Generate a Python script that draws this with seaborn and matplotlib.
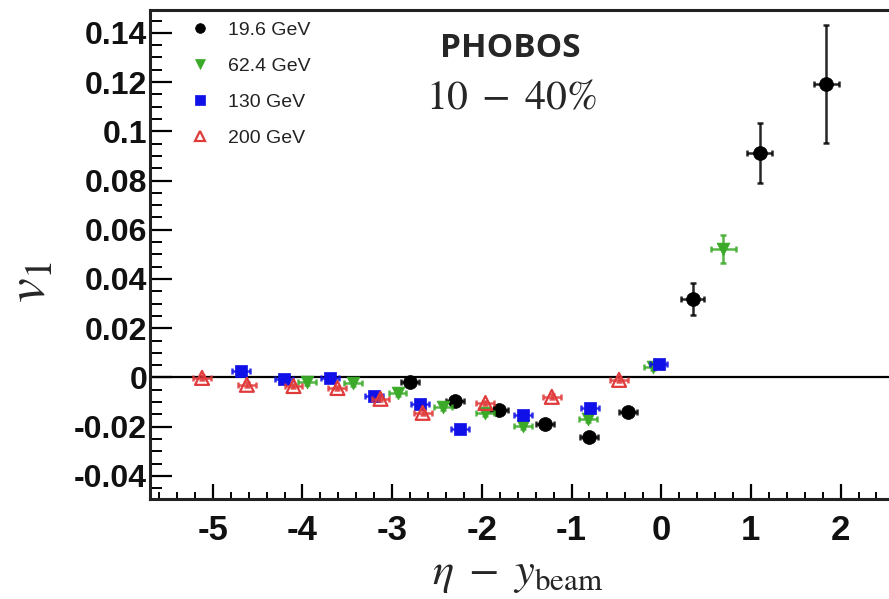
import numpy as np
import pandas as pd
import matplotlib
matplotlib.use("Agg")
import matplotlib.pyplot as plt
import seaborn as sns
from matplotlib.lines import Line2D
from matplotlib.ticker import MultipleLocator, FuncFormatter

# ---- data ----
x_196 = [-2.80, -2.30, -1.81, -1.30, -0.81, -0.37, 0.35, 1.10, 1.84]
y_196 = [-0.0018, -0.0095, -0.0132, -0.0189, -0.0242, -0.0140, 0.0319, 0.0912, 0.1192]
ye_196 = [0.0015, 0.0015, 0.0015, 0.0015, 0.0015, 0.0015, 0.0066, 0.0120, 0.0240]
xe_196 = [0.10, 0.10, 0.10, 0.10, 0.10, 0.10, 0.13, 0.14, 0.14]

x_624 = [-3.95, -3.44, -2.94, -2.43, -1.96, -1.54, -0.82, -0.09, 0.69]
y_624 = [-0.0018, -0.0022, -0.0063, -0.0120, -0.0144, -0.0197, -0.0169, 0.0043, 0.0522]
ye_624 = [0.0012, 0.0012, 0.0012, 0.0012, 0.0012, 0.0012, 0.0012, 0.0012, 0.0058]
xe_624 = [0.10, 0.10, 0.10, 0.10, 0.10, 0.10, 0.10, 0.10, 0.14]

x_130 = [-4.69, -4.21, -3.69, -3.20, -2.69, -2.24, -1.54, -0.79, -0.03]
y_130 = [0.0026, -0.0006, -0.0002, -0.0075, -0.0108, -0.0209, -0.0152, -0.0124, 0.0055]
ye_130 = [0.0012] * 9
xe_130 = [0.10] * 9

x_200 = [-5.12, -4.62, -4.10, -3.61, -3.13, -2.66, -1.96, -1.22, -0.47]
y_200 = [-0.0002, -0.0030, -0.0035, -0.0043, -0.0087, -0.0144, -0.0104, -0.0079, -0.0010]
ye_200 = [0.0010] * 9
xe_200 = [0.10] * 9

labels = ["19.6 GeV", "62.4 GeV", "130 GeV", "200 GeV"]
y_ticks = [-0.04, -0.02, 0, 0.02, 0.04, 0.06, 0.08, 0.1, 0.12, 0.14]
x_ticks = [-5, -4, -3, -2, -1, 0, 1, 2]

# ---- style ----
sns.set_theme(style="ticks")
plt.rcParams["font.family"] = ["Liberation Sans", "DejaVu Sans"]
plt.rcParams["axes.unicode_minus"] = False
plt.rcParams["mathtext.fontset"] = "stix"

fig = plt.figure(figsize=(8.89, 5.99), dpi=100)
ax = fig.add_axes([150 / 889, 1 - 499 / 599, 739 / 889, 489.5 / 599])

series = [
    dict(x=x_196, y=y_196, xe=xe_196, ye=ye_196, label=labels[0], marker="o",
         color="#000000", face="#000000", s=100, lw=0.5),
    dict(x=x_624, y=y_624, xe=xe_624, ye=ye_624, label=labels[1], marker="v",
         color="#3aaa28", face="#3aaa28", s=85, lw=0.5),
    dict(x=x_130, y=y_130, xe=xe_130, ye=ye_130, label=labels[2], marker="s",
         color="#1010e8", face="#1010e8", s=75, lw=0.5),
    dict(x=x_200, y=y_200, xe=xe_200, ye=ye_200, label=labels[3], marker="^",
         color="#e03a3a", face="none", s=100, lw=1.6),
]

ax.axhline(0, color="black", lw=1.6, zorder=1)

for i, sd in enumerate(series):
    df = pd.DataFrame({"x": sd["x"], "y": sd["y"]})
    ax.errorbar(df["x"], df["y"], xerr=sd["xe"], yerr=sd["ye"], fmt="none",
                ecolor=sd["color"], elinewidth=1.8, capsize=2.5, capthick=1.8,
                zorder=2 + i, alpha=0.85)
    sns.scatterplot(data=df, x="x", y="y", ax=ax, marker=sd["marker"],
                    color=sd["color"], facecolor=sd["face"], edgecolor=sd["color"],
                    linewidth=sd["lw"], s=sd["s"], zorder=3 + i, legend=False)

ax.set_xlim(-5.70, 2.54)
ax.set_ylim(-0.0494, 0.1495)

ax.set_xticks(x_ticks)
ax.set_yticks(y_ticks)
ax.xaxis.set_minor_locator(MultipleLocator(0.2))
ax.yaxis.set_minor_locator(MultipleLocator(0.005))
ax.yaxis.set_major_formatter(FuncFormatter(lambda v, p: "0" if abs(v) < 1e-9 else ("%g" % v)))
ax.xaxis.set_major_formatter(FuncFormatter(lambda v, p: "%g" % v))

ax.tick_params(axis="y", which="major", direction="in", length=15.5, width=1.6,
               labelsize=23, color="black", labelcolor="#111111", pad=2,
               left=True, right=False)
ax.tick_params(axis="y", which="minor", direction="in", length=8.5, width=1.4,
               color="black", left=True, right=False)
ax.tick_params(axis="x", which="major", direction="in", length=11, width=1.6,
               labelsize=25, color="black", labelcolor="#111111", pad=11,
               bottom=True, top=False)
ax.tick_params(axis="x", which="minor", direction="in", length=5, width=1.4,
               color="black", bottom=True, top=False)
for lab in ax.get_xticklabels() + ax.get_yticklabels():
    lab.set_fontweight("bold")

for side in ["left", "bottom", "top"]:
    ax.spines[side].set_linewidth(2.2)
    ax.spines[side].set_color("#222222")
ax.spines["right"].set_visible(False)

ax.set_xlabel(r"$\eta\;-\;y_{\mathrm{beam}}$", fontsize=32)
ax.set_ylabel(r"$v_1$", fontsize=40)
ax.xaxis.set_label_coords(0.497, -0.155)
ax.xaxis.label.set_va("center")
ax.yaxis.set_label_coords(-0.160, 0.443)
ax.yaxis.label.set_va("center")

ax.text(0.487, 0.921, "PHOBOS", transform=ax.transAxes, ha="center", va="center",
        fontsize=24, fontweight="bold", family=["Open Sans", "DejaVu Sans"])
ax.text(0.489, 0.821, r"$10\;-\;40\%$", transform=ax.transAxes, ha="center",
        va="center", fontsize=30)

handles = []
for sd in series:
    handles.append(Line2D([], [], linestyle="none", marker=sd["marker"],
                          markerfacecolor=sd["face"], markeredgecolor=sd["color"],
                          markeredgewidth=sd["lw"] if sd["face"] == "none" else 0.5,
                          markersize=7))
leg = ax.legend(handles, labels, loc="upper left", bbox_to_anchor=(0.0545, 0.976),
                frameon=False, fontsize=14, handlelength=1.0, handletextpad=0.95,
                labelspacing=0.95, borderpad=0, borderaxespad=0)
for t in leg.get_texts():
    t.set_color("#222222")

fig.savefig("out.png", dpi=100)
